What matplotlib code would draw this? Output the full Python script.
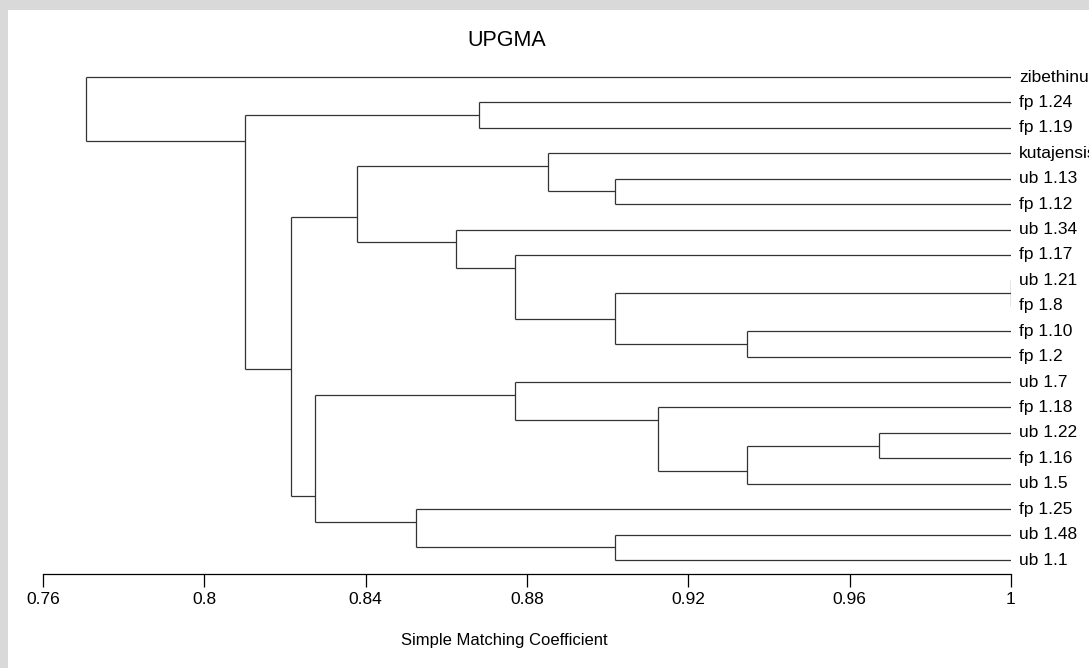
import matplotlib.pyplot as plt
from matplotlib.patches import Rectangle

plt.rcParams['font.family'] = ['Liberation Sans', 'DejaVu Sans']

# leaves, top to bottom
leaves = ["zibethinus", "fp 1.24", "fp 1.19", "kutajensis", "ub 1.13", "fp 1.12",
          "ub 1.34", "fp 1.17", "ub 1.21", "fp 1.8", "fp 1.10", "fp 1.2",
          "ub 1.7", "fp 1.18", "ub 1.22", "fp 1.16", "ub 1.5", "fp 1.25",
          "ub 1.48", "ub 1.1"]

# merges, scipy style ids: leaves 0..19, new clusters 20, 21, ...
top_child = [8, 14, 10, 21, 13, 18, 4, 20, 3, 7, 12, 1, 6, 17, 28, 30, 34, 31, 0]
bottom_child = [9, 15, 11, 16, 23, 19, 5, 22, 26, 27, 24, 2, 29, 25, 32, 33, 35, 36, 37]
similarity = [1.0, 0.9673, 0.9346, 0.9346, 0.9125, 0.9018, 0.9018, 0.9018, 0.8852,
              0.877, 0.877, 0.868, 0.8624, 0.8525, 0.8379, 0.8274, 0.8215, 0.81, 0.7707]

n = len(leaves)
rows = {i: [i] for i in range(n)}
attach = {i: float(i) for i in range(n)}
height = {i: 1.0 for i in range(n)}
parent_h = {}
for k, (a, b, s) in enumerate(zip(top_child, bottom_child, similarity)):
    nid = n + k
    rows[nid] = rows[a] + rows[b]
    attach[nid] = max(rows[a]) + 0.5   # joins at the split between the two children
    height[nid] = s
    parent_h[a] = s
    parent_h[b] = s

fig = plt.figure(figsize=(10.89, 6.68), dpi=100, facecolor='#d9d9d9')
fig.patches.append(Rectangle((8 / 1089, 0), 1, 1 - 10 / 668, transform=fig.transFigure,
                             facecolor='white', edgecolor='none', zorder=-1))

ax = fig.add_axes([43 / 1089, 1 - 574 / 668, 968 / 1089, 514 / 668])
ax.set_facecolor('none')
lc = '#333333'
lw = 0.9

for nid in height:
    if nid in parent_h:
        ax.plot([parent_h[nid], height[nid]], [attach[nid], attach[nid]], color=lc, lw=lw,
                solid_capstyle='butt')
for k, (a, b) in enumerate(zip(top_child, bottom_child)):
    nid = n + k
    ax.plot([height[nid], height[nid]], [attach[a], attach[b]], color=lc, lw=lw,
            solid_capstyle='butt')

for i, name in enumerate(leaves):
    ax.annotate(name, xy=(1.0, i), xytext=(8, 0), textcoords='offset pixels',
                ha='left', va='center', fontsize=12.5, color='black', annotation_clip=False)

ax.set_xlim(0.76, 1.0)
ax.set_ylim(19.55, -0.67)
ax.set_xticks([0.76, 0.8, 0.84, 0.88, 0.92, 0.96, 1.0])
ax.set_xticklabels(["0.76", "0.8", "0.84", "0.88", "0.92", "0.96", "1"])
ax.tick_params(axis='x', length=9, width=0.9, color='black', labelsize=12.5, pad=4)
ax.set_yticks([])
for side in ['left', 'right', 'top']:
    ax.spines[side].set_visible(False)
ax.spines['bottom'].set_linewidth(0.9)

fig.text(507 / 1089, 1 - 40 / 668, "UPGMA", ha='center', va='center', fontsize=15.5)
fig.text(504 / 1089, 1 - 641 / 668, "Simple Matching Coefficient", ha='center', va='center',
         fontsize=12)

fig.savefig('out.png', dpi=100, facecolor=fig.get_facecolor())
